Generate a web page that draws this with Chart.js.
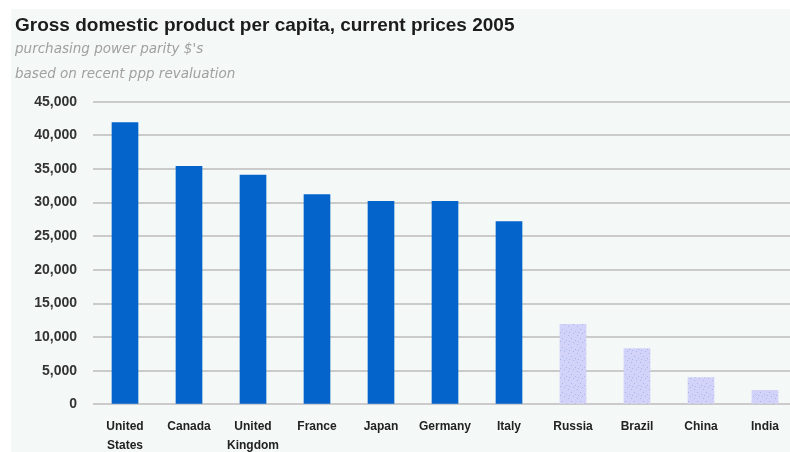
<!DOCTYPE html>
<html lang="en">
<head>
    <meta charset="UTF-8">
    <title>GDP per capita 2005</title>
    <script src="https://cdn.jsdelivr.net/npm/chart.js"></script>
    <style>
        body {
            margin: 0;
            background: #fff;
            overflow: hidden;
            width: 790px;
            height: 452px;
            position: relative;
        }

        .panel {
            position: absolute;
            left: 11px;
            top: 9px;
            right: 0;
            bottom: 0;
            background: #f4f8f6;
        }

        #chart {
            position: absolute;
            left: 0;
            top: 0;
        }
    </style>
</head>
<body>

    <div class="panel"></div>
    <canvas id="chart" width="800" height="473"></canvas>

    <script>
        const countries = [['United', 'States'], 'Canada', ['United', 'Kingdom'], 'France', 'Japan',
            'Germany', 'Italy', 'Russia', 'Brazil', 'China', 'India'];
        const gdpPerCapita = [41900, 35400, 34100, 31200, 30200, 30200, 27200, 11900, 8300, 4000, 2100];
        const richGroup = [true, true, true, true, true, true, true, false, false, false, false];
        const yTicks = [0, 5000, 10000, 15000, 20000, 25000, 30000, 35000, 40000, 45000];

        const narrow = "'Liberation Sans Narrow', 'Liberation Sans', sans-serif";

        // dotted lavender fill for the emerging economies
        function dotPattern() {
            const c = document.createElement('canvas');
            c.width = 9;
            c.height = 9;
            const g = c.getContext('2d');
            g.fillStyle = '#d3d3fa';
            g.fillRect(0, 0, 9, 9);
            g.fillStyle = '#a7b6ee';
            g.fillRect(1, 2, 1, 1);
            g.fillRect(6, 0, 1, 1);
            g.fillRect(4, 5, 1, 1);
            g.fillRect(8, 7, 1, 1);
            g.fillRect(2, 8, 1, 1);
            return g.createPattern(c, 'repeat');
        }

        const ctx = document.getElementById('chart').getContext('2d');
        const dots = dotPattern();

        new Chart(ctx, {
            type: 'bar',
            data: {
                labels: countries,
                datasets: [{
                    data: gdpPerCapita,
                    backgroundColor: richGroup.map(r => r ? '#0464cc' : dots),
                    borderWidth: 0,
                    barThickness: 26
                }]
            },
            options: {
                responsive: false,
                animation: false,
                layout: {
                    padding: { left: 15, right: 3, top: 0, bottom: 5 }
                },
                plugins: {
                    legend: { display: false },
                    tooltip: { enabled: false },
                    title: {
                        display: true,
                        text: 'Gross domestic product per capita, current prices 2005',
                        align: 'start',
                        color: '#1c1c1c',
                        font: { family: narrow, size: 19, weight: 'bold', lineHeight: 1.2 },
                        padding: { top: 14, bottom: 0 }
                    },
                    subtitle: {
                        display: true,
                        text: ["purchasing power parity $'s", 'based on recent ppp revaluation'],
                        align: 'start',
                        color: '#a0a0a0',
                        font: { family: "'DejaVu Sans', sans-serif", size: 13.5, style: 'italic', lineHeight: 1.85 },
                        padding: { top: 0, bottom: 15 }
                    }
                },
                scales: {
                    x: {
                        grid: { display: false, drawTicks: false },
                        border: { display: false },
                        ticks: {
                            color: '#222',
                            padding: 12,
                            maxRotation: 0,
                            autoSkip: false,
                            font: { family: narrow, size: 12, weight: 'bold', lineHeight: 1.65 }
                        }
                    },
                    y: {
                        min: 0,
                        max: 45000,
                        afterFit: scale => { scale.width = 78; },
                        afterBuildTicks: scale => {
                            scale.ticks = yTicks.map(v => ({ value: v }));
                        },
                        grid: { color: '#cbcbcb', lineWidth: 2, drawTicks: false },
                        border: { display: false },
                        ticks: {
                            color: '#333',
                            padding: 16,
                            font: { family: narrow, size: 14, weight: 'bold' },
                            callback: v => v.toLocaleString('en-US')
                        }
                    }
                }
            }
        });
    </script>

</body>
</html>
